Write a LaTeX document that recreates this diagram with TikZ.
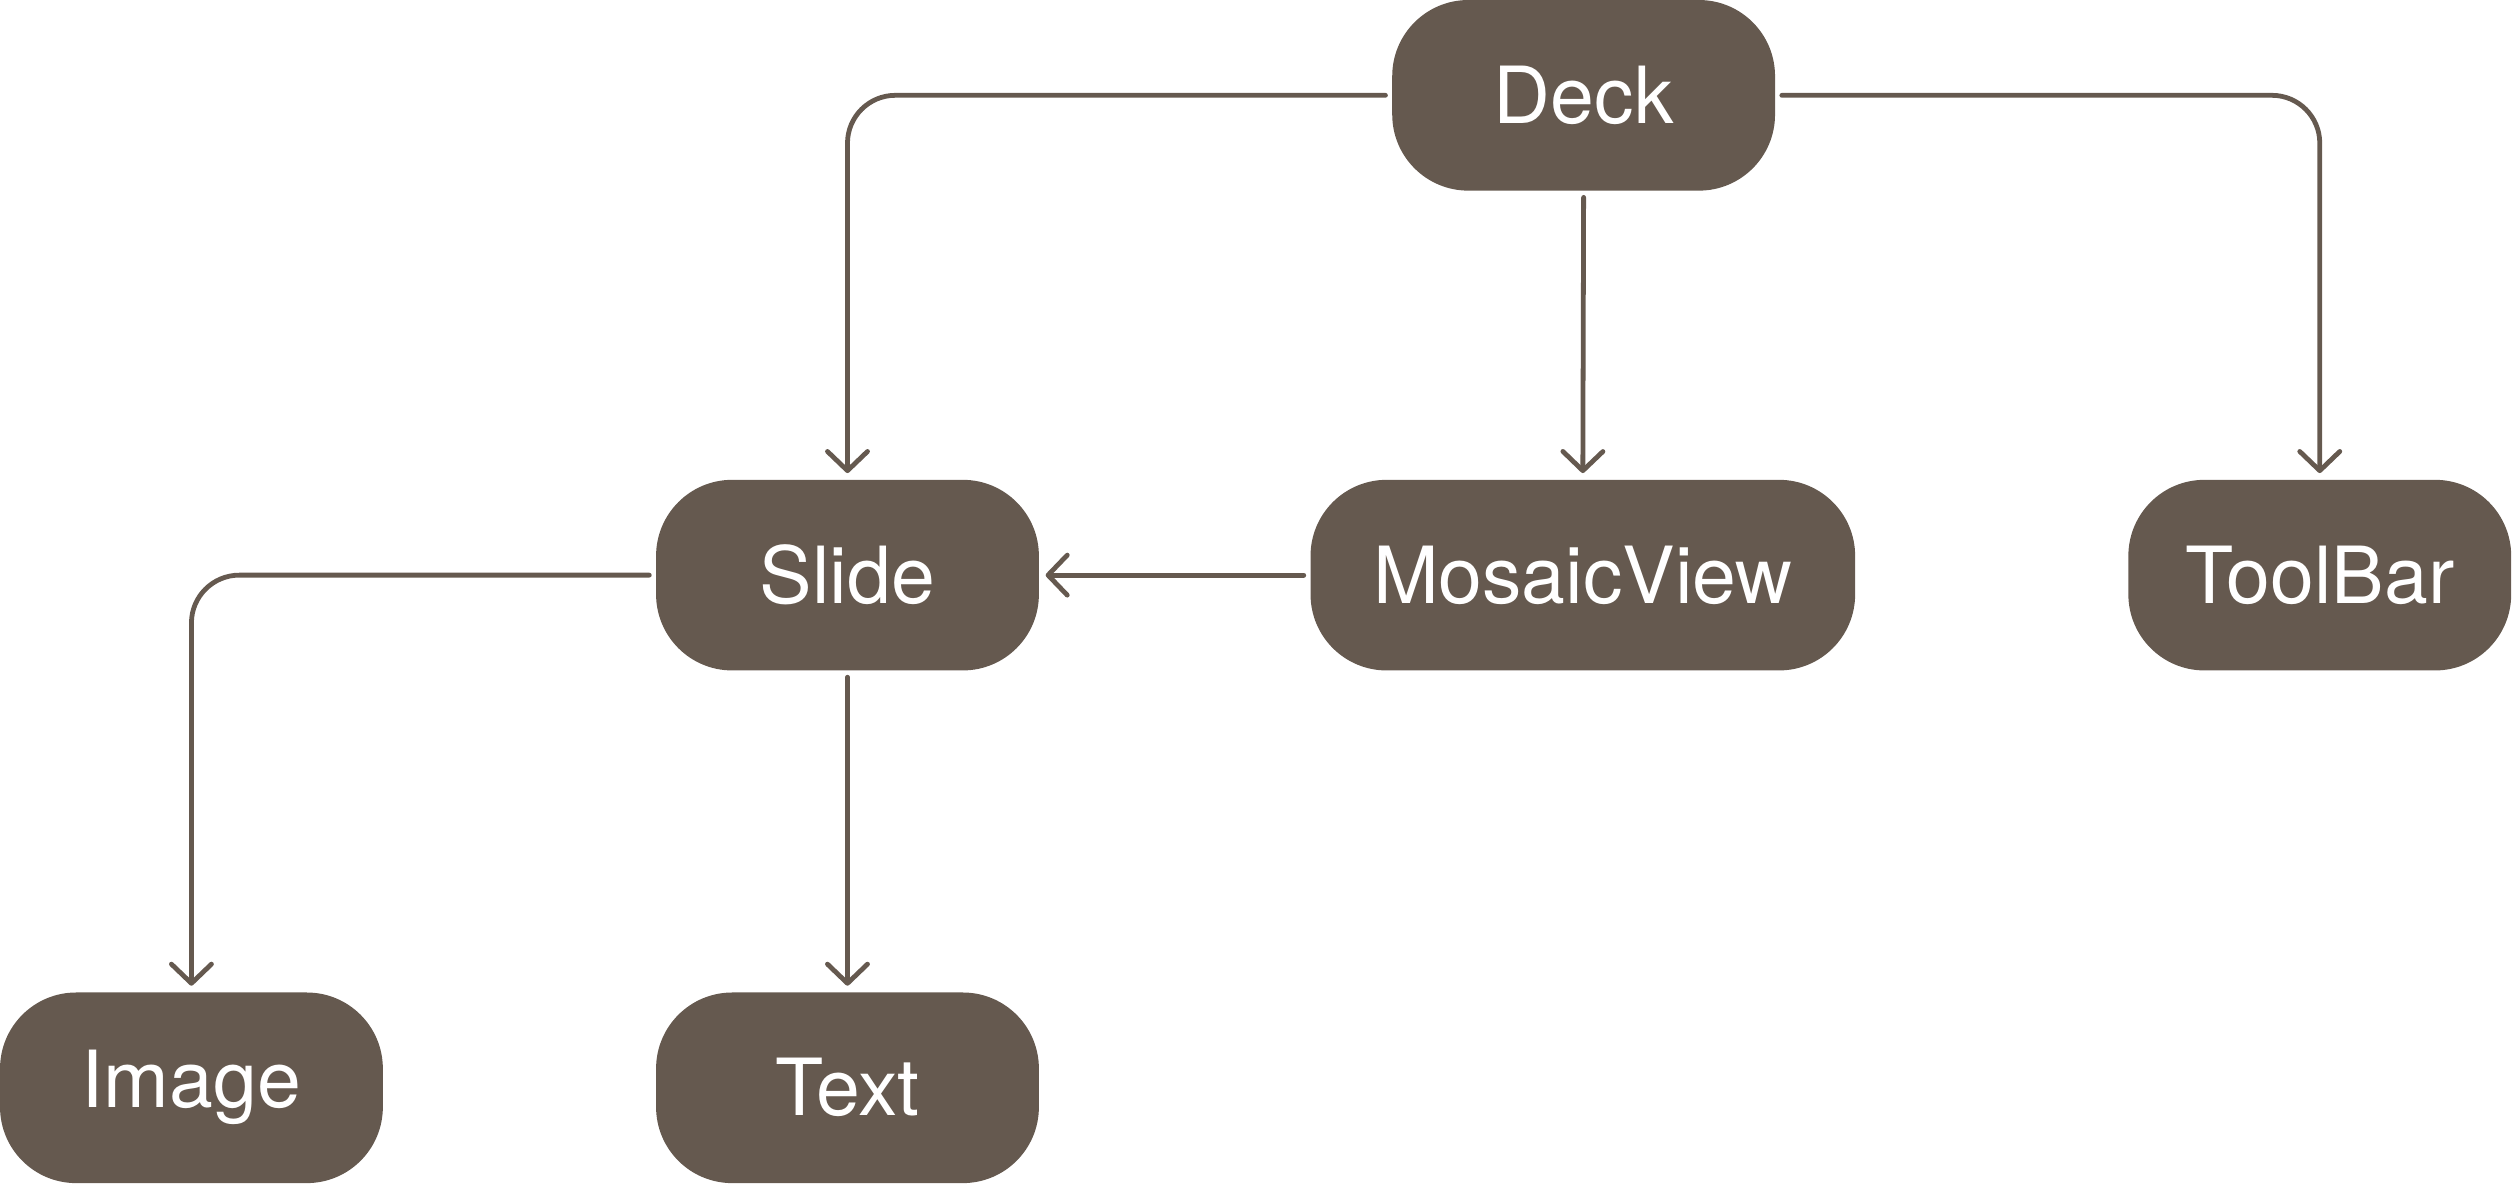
\documentclass[tikz,border=0pt]{standalone}
\usepackage{fontspec}
\setmainfont{TeX Gyre Heros}
\usepackage{tikz}
\usetikzlibrary{arrows.meta,positioning}
\definecolor{bark}{RGB}{101,89,79}

\begin{document}
\begin{tikzpicture}[
		x=0.02cm, y=0.02cm,
		basic/.style  = {fill=bark, text=white, rounded corners=0.95cm, minimum height=2.38cm, outer sep=2.4pt, inner sep=0pt, font=\fontsize{28}{34}\selectfont},
		box/.style    = {basic, minimum width=4.78cm},
		widebox/.style = {basic, minimum width=6.8cm},
		conn/.style   = {draw=bark, line width=1.7pt, line cap=round, rounded corners=17pt, -{Straight Barb[length=0.24cm, width=0.5cm, line cap=round, line join=round]}},
		>=latex]
		
		\useasboundingbox (0,0) rectangle (1568,-740);
		
		% Top level
		\node[box] (deck) at (988.5,-59.5) {Deck};
		
		% Second row
		\node[box] (slide) at (529,-359) {Slide};
		\node[widebox] (mosaic) at (988,-359) {MosaicView};
		\node[box] (toolbar) at (1448,-359) {ToolBar};
		
		% Third row
		\node[box] (image) at (119.5,-679) {Image};
		\node[box] (text) at (529,-679) {Text};
		
		% Lines from Deck to the second row
		\draw[conn] (deck.west) -| (slide.north);
		\draw[conn] (deck.south) -- (mosaic.north);
		\draw[conn] (deck.east) -| (toolbar.north);
		
		% Lines into and out of Slide
		\draw[conn] (mosaic.west) -- (slide.east);
		\draw[conn] (slide.west) -| (image.north);
		\draw[conn] (slide.south) -- (text.north);
		
	\end{tikzpicture}
\end{document}
